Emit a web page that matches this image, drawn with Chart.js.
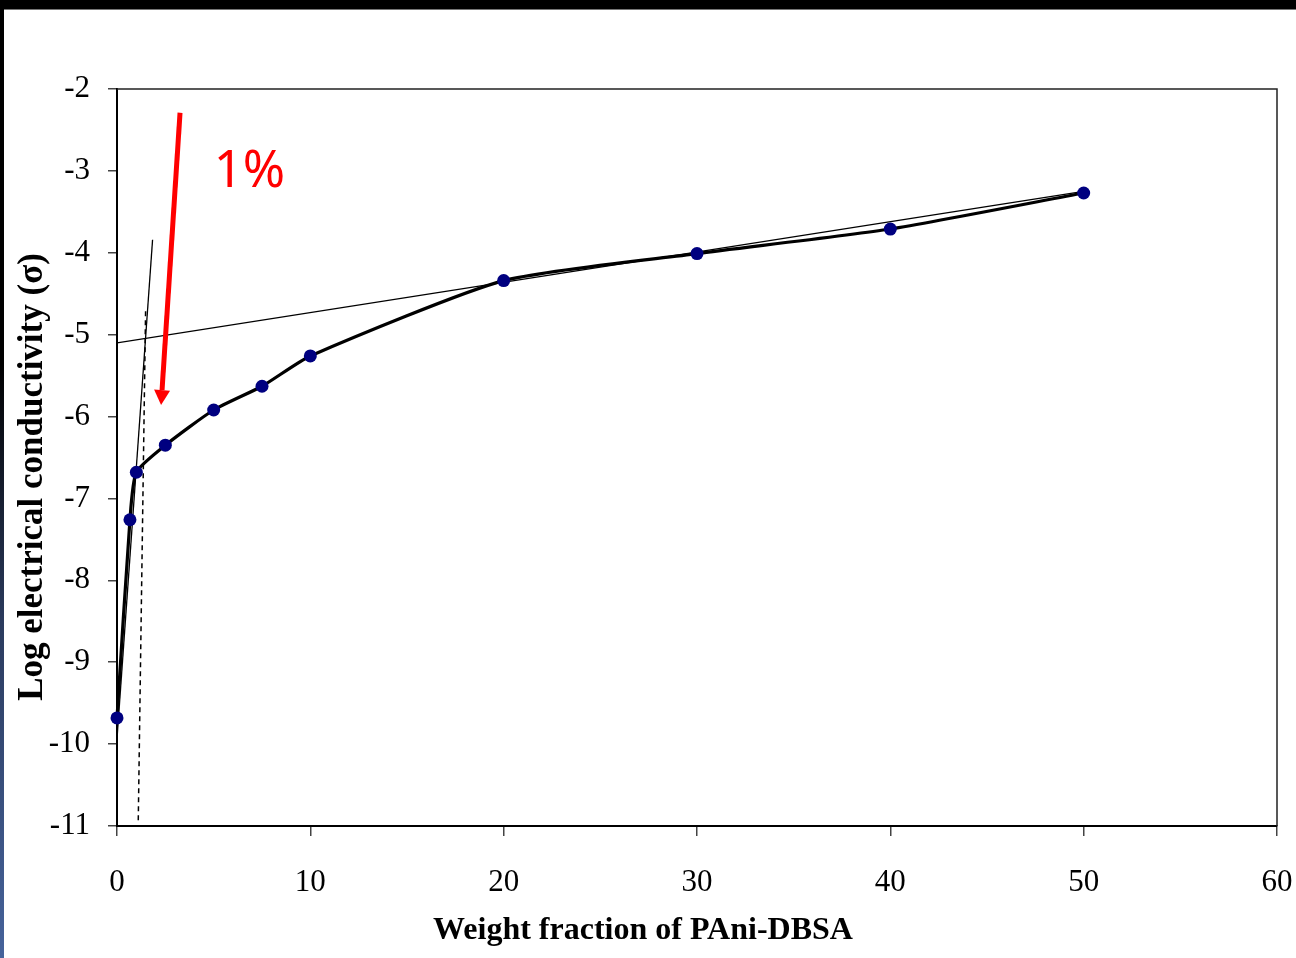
<!DOCTYPE html>
<html>
<head>
<meta charset="utf-8">
<script src="https://cdn.jsdelivr.net/npm/chart.js@4/dist/chart.umd.min.js"></script>
<style>
  html, body { margin: 0; padding: 0; background: #fff; }
  #wrap { position: relative; width: 1296px; height: 958px; overflow: hidden; }
  #topbar { position: absolute; left: 0; top: 0; width: 1296px; height: 9px; background: #000; border-bottom: 1px solid #777; }
  #leftbar { position: absolute; left: 0; top: 0; width: 4px; height: 958px;
             background: linear-gradient(to bottom, #000 0%, #000 38%, #2b3b5e 65%, #46639b 100%); }
</style>
</head>
<body>
<div id="wrap">
  <canvas id="chart" width="1296" height="958"></canvas>
  <div id="topbar"></div>
  <div id="leftbar"></div>
</div>
<script>
// ── DATA ─────────────────────────────────────────────────────────
const wtFraction   = [0, 0.67, 1, 2.5, 5, 7.5, 10, 20, 30, 40, 50];
const logSigma     = [-9.68, -7.26, -6.68, -6.35, -5.92, -5.63, -5.26, -4.34, -4.01, -3.71, -3.27];

// thin fitted lines and the dashed threshold marker (x, y endpoints)
const fitHighX     = [0, 50];
const fitHighY     = [-5.10, -3.25];
const fitSteepX    = [0, 1.84];
const fitSteepY    = [-9.93, -3.84];
const thresholdX   = [1.10, 1.48];
const thresholdY   = [-10.93, -4.69];

// red arrow (from → to) and its label, in data units
const arrowX       = [3.26, 2.28];
const arrowY       = [-2.29, -5.86];
const arrowLabel   = "1%";
const labelPos     = [5.0, -3.20];

const xTitle = "Weight fraction of PAni-DBSA";
const yTitle = "Log electrical conductivity (σ)";

const serif = "'Liberation Serif', 'Times New Roman', serif";

const pts = (xs, ys) => xs.map((x, i) => ({ x, y: ys[i] }));

// ── ARROW + LABEL + BOX + TITLES ─────────────────────────────────
const extras = {
  id: "extras",
  afterDatasetsDraw(chart) {
    const { ctx, chartArea: a, scales: { x, y } } = chart;
    ctx.save();

    // top / right frame of the plot box
    ctx.strokeStyle = "#222";
    ctx.lineWidth = 1.5;
    ctx.beginPath();
    ctx.moveTo(a.left, a.top);
    ctx.lineTo(a.right, a.top);
    ctx.lineTo(a.right, a.bottom);
    ctx.stroke();

    // red arrow
    const x0 = x.getPixelForValue(arrowX[0]), y0 = y.getPixelForValue(arrowY[0]);
    const x1 = x.getPixelForValue(arrowX[1]), y1 = y.getPixelForValue(arrowY[1]);
    const ang = Math.atan2(y1 - y0, x1 - x0);
    const headLen = 15, headW = 8;
    const bx = x1 - headLen * Math.cos(ang), by = y1 - headLen * Math.sin(ang);
    ctx.strokeStyle = "#ff0000";
    ctx.fillStyle = "#ff0000";
    ctx.lineWidth = 5;
    ctx.beginPath();
    ctx.moveTo(x0, y0);
    ctx.lineTo(bx, by);
    ctx.stroke();
    ctx.beginPath();
    ctx.moveTo(x1, y1);
    ctx.lineTo(bx + headW * Math.sin(ang), by - headW * Math.cos(ang));
    ctx.lineTo(bx - headW * Math.sin(ang), by + headW * Math.cos(ang));
    ctx.closePath();
    ctx.fill();

    // "1%"
    ctx.font = "51px 'Noto Sans', sans-serif";
    ctx.textAlign = "left";
    ctx.textBaseline = "alphabetic";
    ctx.fillText(arrowLabel, x.getPixelForValue(labelPos[0]), y.getPixelForValue(labelPos[1]));

    // axis titles
    ctx.fillStyle = "#000";
    ctx.textAlign = "center";
    ctx.textBaseline = "middle";
    ctx.font = "bold 32px " + serif;
    ctx.fillText(xTitle, 643, 931);
    ctx.font = "bold 35px " + serif;
    ctx.translate(33, 477);
    ctx.rotate(-Math.PI / 2);
    ctx.fillText(yTitle, 0, 0);

    ctx.restore();
  },
};

const thin = { borderColor: "#000", borderWidth: 1.3, pointRadius: 0, tension: 0 };

new Chart(document.getElementById("chart"), {
  type: "line",
  data: {
    datasets: [
      {
        data: pts(wtFraction, logSigma),
        borderColor: "#000",
        borderWidth: 3.2,
        tension: 0.2,
        clip: false,
        pointRadius: 6.5,
        pointBackgroundColor: "#000080",
        pointBorderColor: "#000080",
        pointBorderWidth: 0,
      },
      { ...thin, data: pts(fitHighX, fitHighY) },
      { ...thin, data: pts(fitSteepX, fitSteepY) },
      { ...thin, data: pts(thresholdX, thresholdY), borderDash: [5, 4], borderWidth: 1.5 },
    ],
  },
  options: {
    responsive: false,
    animation: false,
    layout: { padding: { top: 89, right: 19, left: 0, bottom: 0 } },
    plugins: { legend: { display: false }, tooltip: { enabled: false } },
    scales: {
      x: {
        type: "linear",
        min: 0,
        max: 60,
        afterFit: s => { s.height = 132; s.paddingLeft = 0; s.paddingRight = 0; },
        ticks: { stepSize: 10, color: "#000", padding: 28, font: { family: serif, size: 31 } },
        grid: { drawOnChartArea: false, tickLength: 10, color: "#444", lineWidth: 1.5 },
        border: { color: "#000", width: 2 },
      },
      y: {
        type: "linear",
        min: -11,
        max: -2,
        afterFit: s => { s.width = 117; s.paddingTop = 0; s.paddingBottom = 0; },
        ticks: { stepSize: 1, color: "#000", padding: 18, font: { family: serif, size: 31 } },
        grid: { drawOnChartArea: false, tickLength: 9, color: "#444", lineWidth: 1.5 },
        border: { color: "#000", width: 2 },
      },
    },
  },
  plugins: [extras],
});
</script>
</body>
</html>
